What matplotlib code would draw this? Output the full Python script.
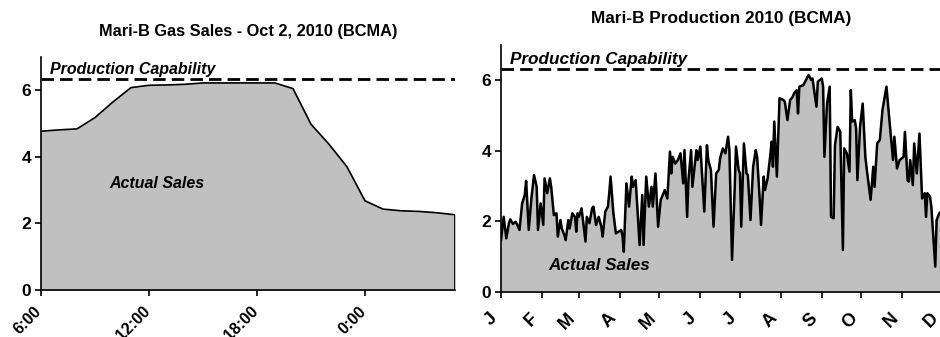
import matplotlib
matplotlib.use("Agg")
import matplotlib.pyplot as plt
from matplotlib.transforms import ScaledTranslation

plt.rcParams["font.family"] = ["Liberation Sans", "DejaVu Sans"]
plt.rcParams["font.weight"] = "bold"

# --- left chart: hourly sales on Oct 2, 2010 (hour of day, past midnight continues at 24+)
hours = list(range(6, 30))
hourly_sales = [4.77, 4.81, 4.84, 5.18, 5.65, 6.08, 6.15, 6.16, 6.18, 6.22, 6.22, 6.22,
                6.22, 6.22, 6.05, 4.98, 4.38, 3.70, 2.68, 2.43, 2.38, 2.36, 2.32, 2.26]
hour_ticks = [6, 12, 18, 24]
hour_labels = ["6:00", "12:00", "18:00", "0:00"]

# --- right chart: daily production 2010 (day of year, 0 = Jan 1)
days = [0, 2, 4, 6, 7, 9, 11, 12, 14, 16, 18, 19, 21, 23, 25, 27, 28, 30, 32, 33,
        35, 37, 38, 40, 42, 43, 45, 46, 48, 49, 51, 52, 54, 56, 57, 58, 59, 61, 64, 65,
        67, 69, 70, 72, 74, 76, 77, 79, 81, 82, 83, 85, 87, 89, 91, 92, 93, 95, 97, 99,
        100, 102, 105, 107, 108, 110, 112, 114, 115, 117, 119, 121, 122, 124, 126, 128, 129, 130, 132, 134,
        136, 138, 139, 141, 142, 144, 145, 148, 149, 151, 154, 156, 157, 159, 161, 163, 165, 166, 168, 170,
        172, 173, 175, 177, 178, 180, 181, 182, 184, 186, 187, 189, 191, 193, 194, 196, 197, 199, 200, 202,
        204, 205, 206, 207, 209, 211, 214, 215, 217, 219, 221, 222, 224, 225, 226, 229, 233, 235, 236, 237,
        239, 240, 243, 244, 245, 247, 249, 250, 252, 253, 255, 257, 259, 260, 262, 264, 265, 266, 268, 269,
        270, 272, 274, 276, 277, 280, 282, 283, 285, 287, 289, 292, 294, 297, 298, 300, 302, 305, 306, 308,
        309, 310, 312, 313, 315, 317, 319, 321, 322, 323, 325, 326, 329, 330, 332, 334]
daily_sales = [1.47, 2.13, 1.52, 1.95, 2.06, 1.93, 1.99, 1.93, 1.76, 2.51, 2.75, 3.15, 1.76, 2.65, 3.31, 2.98, 1.76, 2.51, 1.90, 3.22,
               2.80, 3.22, 2.98, 2.18, 2.23, 1.57, 2.04, 1.80, 1.61, 1.47, 2.04, 1.80, 2.23, 2.13, 1.71, 2.23, 2.13, 2.37, 1.43, 2.13,
               1.95, 2.37, 2.42, 1.90, 2.13, 1.85, 1.57, 2.28, 2.42, 2.80, 3.27, 2.28, 1.66, 1.71, 1.76, 1.61, 1.14, 3.08, 2.42, 3.27,
               2.98, 3.17, 1.33, 2.75, 1.33, 3.27, 2.42, 2.98, 2.42, 3.36, 1.85, 2.61, 2.70, 2.89, 2.65, 3.98, 3.36, 3.83, 3.64, 3.74,
               3.93, 3.08, 4.02, 2.13, 3.17, 4.02, 2.98, 4.02, 3.74, 4.12, 2.28, 4.16, 3.74, 3.46, 1.85, 3.36, 3.46, 3.79, 4.07, 3.93,
               4.40, 4.02, 0.91, 2.89, 4.12, 3.46, 3.36, 1.85, 4.21, 3.36, 3.31, 2.04, 3.55, 4.02, 3.83, 2.61, 1.90, 3.27, 2.89, 3.22,
               3.88, 4.26, 3.55, 4.83, 3.27, 5.49, 5.44, 5.39, 4.87, 5.44, 5.53, 5.63, 5.72, 5.06, 5.82, 5.86, 6.15, 6.01, 6.05, 5.77,
               5.25, 5.96, 6.05, 5.82, 3.83, 5.34, 5.82, 2.13, 2.09, 4.16, 4.68, 4.54, 1.19, 4.07, 3.93, 3.41, 5.72, 4.83, 4.87, 4.64,
               3.17, 4.68, 5.34, 3.83, 3.50, 2.61, 3.55, 2.98, 4.21, 4.31, 5.16, 5.82, 4.97, 3.74, 4.40, 3.50, 3.74, 3.83, 4.54, 3.17,
               3.13, 3.74, 3.03, 4.21, 3.36, 4.49, 2.65, 2.80, 2.13, 2.80, 2.70, 2.42, 0.72, 2.04, 2.23, 2.30]
month_starts = [0, 31, 59, 90, 120, 151, 181, 212, 243, 273, 304, 334]
month_labels = ["J", "F", "M", "A", "M", "J", "J", "A", "S", "O", "N", "D"]

capability = 6.33
fill_grey = "#c0c0c0"


def style(ax, ylabelsize, xlabelsize, xpad, xshift):
    for s in ("top", "right"):
        ax.spines[s].set_visible(False)
    for s in ("left", "bottom"):
        ax.spines[s].set_linewidth(1.2)
    ax.set_ylim(0, 7)
    ax.set_yticks([0, 2, 4, 6])
    ax.tick_params(length=4, width=1.2)
    ax.tick_params(axis="y", labelsize=ylabelsize, pad=3)
    ax.tick_params(axis="x", labelsize=xlabelsize, pad=xpad)
    # shift after tick_params, since tick_params resets label transforms
    shift = ScaledTranslation(xshift / 72, 0, ax.figure.dpi_scale_trans)
    for lab in ax.get_xticklabels():
        lab.set_rotation(45)
        lab.set_ha("right")
        lab.set_rotation_mode("anchor")
        lab.set_transform(lab.get_transform() + shift)


fig = plt.figure(figsize=(9.4, 3.37), dpi=100)

# left panel
ax1 = fig.add_axes([0.0436, 0.1395, 0.4404, 0.6914])
ax1.fill_between(hours, hourly_sales, color=fill_grey, zorder=1)
ax1.plot(hours + [hours[-1]], hourly_sales + [0], color="black", lw=1.2, zorder=2)
ax1.axhline(capability, color="black", lw=2, dashes=(4.5, 2.2), zorder=3)
ax1.set_xlim(hours[0], hours[-1])
ax1.set_xticks(hour_ticks)
ax1.set_xticklabels(hour_labels)
style(ax1, 12.5, 11.5, 6, -5)
ax1.text(6.5, capability + 0.08, "Production Capability", fontsize=11.5,
         style="italic", weight="bold", va="bottom")
ax1.text(9.8, 3.2, "Actual Sales", fontsize=11.5, style="italic", weight="bold",
         va="center")
ax1.set_title("Mari-B Gas Sales - Oct 2, 2010 (BCMA)", fontsize=11.8,
              weight="bold", pad=15)

# right panel
ax2 = fig.add_axes([0.533, 0.1335, 0.469, 0.733])
ax2.fill_between(days, daily_sales, color=fill_grey, zorder=1)
ax2.plot(days, daily_sales, color="black", lw=1.8, zorder=2)
ax2.axhline(capability, color="black", lw=2, dashes=(4.5, 2.2), zorder=3)
ax2.set_xlim(0, 334)
ax2.set_xticks(month_starts)
ax2.set_xticklabels(month_labels)
style(ax2, 12.5, 13, 9, -9)
ax2.text(7, capability + 0.05, "Production Capability", fontsize=12.3,
         style="italic", weight="bold", va="bottom")
ax2.text(36, 0.74, "Actual Sales", fontsize=12.3, style="italic", weight="bold",
         va="center")
ax2.set_title("Mari-B Production 2010 (BCMA)", fontsize=12.4, weight="bold", pad=16)

fig.savefig("out.png", dpi=100)
